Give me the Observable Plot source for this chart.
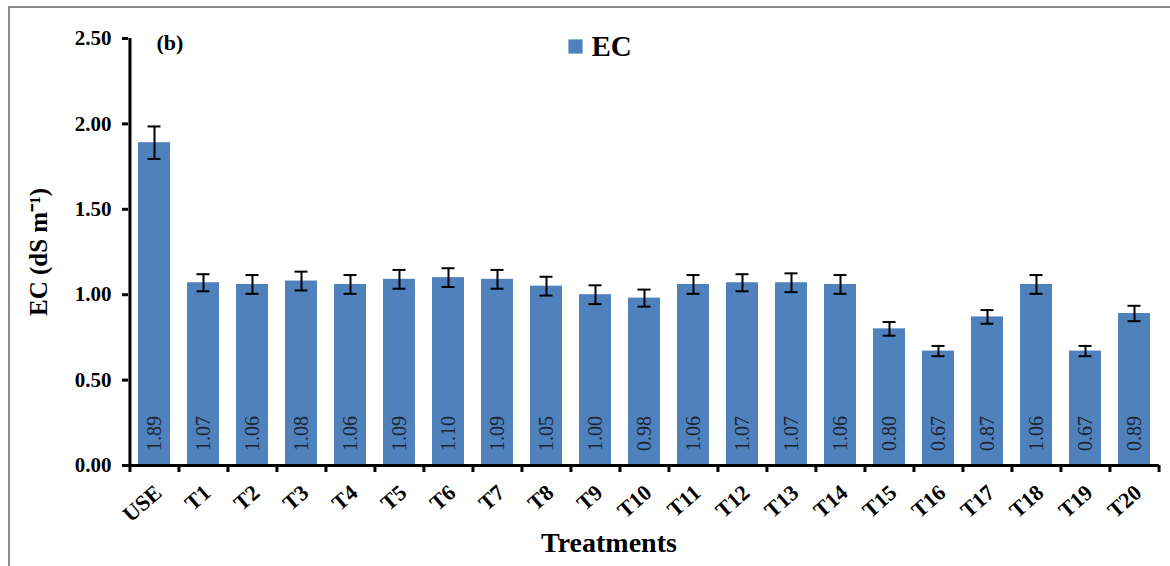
<!DOCTYPE html>
<html>
<head>
<meta charset="utf-8">
<script src="https://cdn.jsdelivr.net/npm/d3@7"></script>
<script src="https://cdn.jsdelivr.net/npm/@observablehq/plot@0.6"></script>
<style>
  html, body { margin: 0; padding: 0; background: #fff; overflow: hidden; }
  #wrap { position: relative; width: 1170px; height: 566px; }
  #border { position: absolute; left: 8px; top: 6px; width: 1200px; height: 600px;
            border-left: 2px solid #8a8a8a; border-top: 2px solid #8a8a8a; box-sizing: border-box; }
  #chart { position: absolute; left: 0; top: 0; }
  svg { font-family: "Liberation Serif", "Times New Roman", serif; }
</style>
</head>
<body>
<div id="wrap"><div id="border"></div><div id="chart"></div></div>
<script>
const categories = ["USE","T1","T2","T3","T4","T5","T6","T7","T8","T9","T10","T11","T12","T13","T14","T15","T16","T17","T18","T19","T20"];
const ecValues = [1.89,1.07,1.06,1.08,1.06,1.09,1.10,1.09,1.05,1.00,0.98,1.06,1.07,1.07,1.06,0.80,0.67,0.87,1.06,0.67,0.89];
const ecErrors = [0.095,0.05,0.055,0.055,0.055,0.055,0.055,0.055,0.055,0.055,0.05,0.055,0.05,0.055,0.055,0.04,0.03,0.04,0.055,0.03,0.045];
const yTicks = [0, 0.5, 1.0, 1.5, 2.0, 2.5];
const seriesName = "EC";
const panelTag = "(b)";
const xTitle = "Treatments";
const yTitle = "EC (dS m\u207B\u00B9)";

const data = categories.map((c, i) => ({cat: c, v: ecValues[i], e: ecErrors[i]}));

const W = 1170, H = 566, mL = 128, mR = 11, mT = 38, mB = 101;
const step = (W - mL - mR) / categories.length;
const pxPerUnit = (H - mT - mB) / 2.5;
const barColor = "#4f81bd";

const chart = Plot.plot({
  width: W, height: H,
  marginLeft: mL, marginRight: mR, marginTop: mT, marginBottom: mB,
  style: {fontFamily: "'Liberation Serif', 'Times New Roman', serif", background: "transparent", overflow: "visible"},
  x: {domain: categories, paddingInner: 0.355, paddingOuter: 0.1775, align: 0.5},
  y: {domain: [0, 2.5]},
  marks: [
    Plot.barY(data, {x: "cat", y: "v", fill: barColor}),
    Plot.ruleX(data, {x: "cat", y1: d => d.v - d.e, y2: d => d.v + d.e, stroke: "#000", strokeWidth: 2}),
    Plot.tickY(data, {x: "cat", y: d => d.v + d.e, stroke: "#000", strokeWidth: 2, insetLeft: 9.5, insetRight: 9.5}),
    Plot.tickY(data, {x: "cat", y: d => d.v - d.e, stroke: "#000", strokeWidth: 2, insetLeft: 9.5, insetRight: 9.5}),
    Plot.text(data, {x: "cat", y: 0, text: d => d.v.toFixed(2), rotate: -90, textAnchor: "middle", dy: -32, fill: "#1a2533", fontSize: 20}),
    // axis lines
    Plot.ruleY([0], {stroke: "#000", strokeWidth: 3}),
    Plot.ruleX([categories[0]], {y1: 0, y2: 2.5, dx: -step / 2, stroke: "#000", strokeWidth: 3}),
    // x boundary ticks
    Plot.ruleX(categories, {x: d => d, y1: 0, y2: -7 / pxPerUnit, dx: -step / 2, stroke: "#000", strokeWidth: 3}),
    Plot.ruleX([categories[categories.length - 1]], {y1: 0, y2: -7 / pxPerUnit, dx: step / 2, stroke: "#000", strokeWidth: 3}),
    Plot.axisY({ticks: yTicks, tickFormat: d => d.toFixed(2), tickSize: 6, tickPadding: 11, strokeWidth: 3,
                fontSize: 21, fontWeight: "bold", label: null, color: "#000"}),
    Plot.axisX({tickSize: 0, tickPadding: 24, tickRotate: -41, fontSize: 22, fontWeight: "bold", label: null, dx: 4, color: "#000"}),
    Plot.text([xTitle], {frameAnchor: "bottom", dx: -35, dy: 78, fontSize: 28, fontWeight: "bold", textAnchor: "middle", lineAnchor: "middle", fill: "#000"}),
    Plot.text([yTitle], {frameAnchor: "left", dx: -90, rotate: -90, fontSize: 25, fontWeight: "bold", textAnchor: "middle", lineAnchor: "middle", fill: "#000"}),
    Plot.text([panelTag], {frameAnchor: "top-left", dx: 28, dy: 4, fontSize: 22, fontWeight: "bold", textAnchor: "start", lineAnchor: "middle", fill: "#000"}),
    Plot.dot([seriesName], {frameAnchor: "top-left", dx: 447, dy: 8, symbol: "square", r: 8, fill: barColor, stroke: "none"}),
    Plot.text([seriesName], {frameAnchor: "top-left", dx: 463, dy: 8, fontSize: 29, fontWeight: "bold", textAnchor: "start", lineAnchor: "middle", fill: "#000"})
  ]
});
document.getElementById("chart").appendChild(chart);
</script>
</body>
</html>
